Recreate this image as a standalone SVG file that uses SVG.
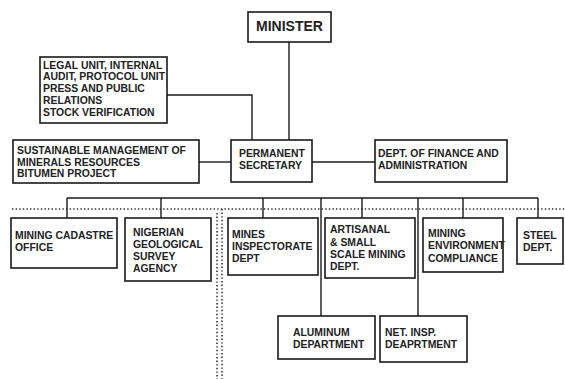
<svg xmlns="http://www.w3.org/2000/svg" width="565" height="379" viewBox="0 0 565 379">
<style>
.box{fill:#fff;stroke:#1a1a1a;stroke-width:1.6}
.t{font-family:"Liberation Sans",Arial,sans-serif;font-weight:bold;font-size:10.4px;fill:#222}
.big{font-size:14px}
.ln{stroke:#1a1a1a;stroke-width:1.4;fill:none}
.dot{stroke:#333;stroke-width:1.6;stroke-dasharray:1.4 2.2;fill:none}
</style>
<rect width="565" height="379" fill="#fff"/>
<g id="connectors">
<path class="ln" d="M289,42V140"/>
<path class="ln" d="M167,95H252V140"/>
<path class="ln" d="M199,162H231"/>
<path class="ln" d="M312,162H375"/>
<path class="ln" d="M67,198H538"/>
<path class="ln" d="M67,198V218M161,198V218M263,198V218M362,198V218M463,198V218M538,198V218"/>
<path class="ln" d="M321,198V316M418,198V316"/>
<path class="dot" d="M12,209H565"/>
<path class="dot" d="M217,213V379"/>
<path class="dot" d="M222,209V379"/>
</g>
<g id="minister"><rect class="box" x="248" y="12" width="83" height="30"/><text class="t big" x="289.5" y="31" text-anchor="middle">MINISTER</text></g>
<g id="legal"><rect class="box" x="40" y="57" width="127" height="66"/><text class="t" x="43"><tspan x="43" y="68.5">LEGAL UNIT, INTERNAL</tspan><tspan x="43" y="80.4">AUDIT, PROTOCOL UNIT</tspan><tspan x="43" y="92.3">PRESS AND PUBLIC</tspan><tspan x="43" y="104.2">RELATIONS</tspan><tspan x="43" y="116.1">STOCK VERIFICATION</tspan></text></g>
<g id="sustainable"><rect class="box" x="13" y="140" width="186" height="43"/><text class="t"><tspan x="17" y="154">SUSTAINABLE MANAGEMENT OF</tspan><tspan x="17" y="165.5">MINERALS RESOURCES</tspan><tspan x="17" y="177">BITUMEN PROJECT</tspan></text></g>
<g id="permsec"><rect class="box" x="231" y="140" width="81" height="42"/><text class="t"><tspan x="239" y="157">PERMANENT</tspan><tspan x="239" y="168.5">SECRETARY</tspan></text></g>
<g id="finance"><rect class="box" x="375" y="140" width="132" height="42"/><text class="t"><tspan x="378" y="157">DEPT. OF FINANCE AND</tspan><tspan x="378" y="168.5">ADMINISTRATION</tspan></text></g>
<g id="cadastre"><rect class="box" x="11" y="218" width="106" height="50"/><text class="t"><tspan x="15" y="239">MINING CADASTRE</tspan><tspan x="15" y="251">OFFICE</tspan></text></g>
<g id="ngsa"><rect class="box" x="125" y="218" width="86" height="63"/><text class="t"><tspan x="133" y="236">NIGERIAN</tspan><tspan x="133" y="248">GEOLOGICAL</tspan><tspan x="133" y="260">SURVEY</tspan><tspan x="133" y="272">AGENCY</tspan></text></g>
<g id="mines"><rect class="box" x="228" y="218" width="90" height="57"/><text class="t"><tspan x="232" y="238">MINES</tspan><tspan x="232" y="250">INSPECTORATE</tspan><tspan x="232" y="262">DEPT</tspan></text></g>
<g id="artisanal"><rect class="box" x="325" y="218" width="90" height="60"/><text class="t"><tspan x="330" y="233">ARTISANAL</tspan><tspan x="330" y="245.5">&amp; SMALL</tspan><tspan x="330" y="258">SCALE MINING</tspan><tspan x="330" y="270">DEPT.</tspan></text></g>
<g id="environment"><rect class="box" x="423" y="218" width="80" height="54"/><text class="t"><tspan x="428" y="237">MINING</tspan><tspan x="428" y="249">ENVIRONMENT</tspan><tspan x="428" y="261.5">COMPLIANCE</tspan></text></g>
<g id="steel"><rect class="box" x="517" y="218" width="46" height="46"/><text class="t"><tspan x="523" y="239">STEEL</tspan><tspan x="523" y="251">DEPT.</tspan></text></g>
<g id="aluminum"><rect class="box" x="278" y="316" width="97" height="43"/><text class="t"><tspan x="293" y="336">ALUMINUM</tspan><tspan x="293" y="347.5">DEPARTMENT</tspan></text></g>
<g id="netinsp"><rect class="box" x="380" y="316" width="87" height="46"/><text class="t"><tspan x="385" y="336">NET. INSP.</tspan><tspan x="385" y="348">DEAPRTMENT</tspan></text></g>
</svg>
